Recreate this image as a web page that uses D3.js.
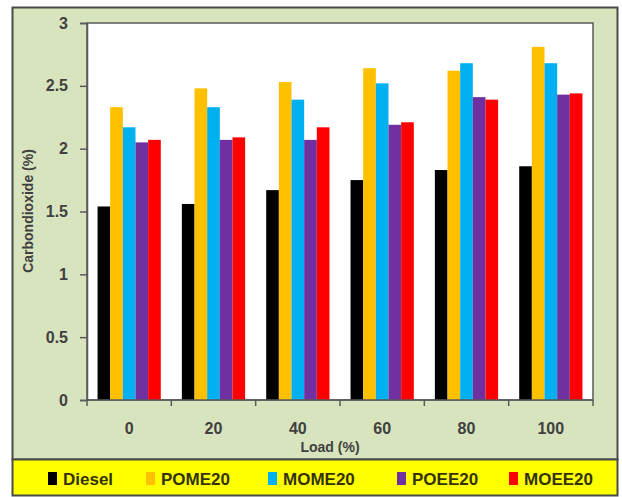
<!DOCTYPE html>
<html>
<head>
<meta charset="utf-8">
<script src="https://cdn.jsdelivr.net/npm/d3@7/dist/d3.min.js"></script>
<style>
  html, body { margin: 0; padding: 0; background: #fff; }
  svg { display: block; font-family: "Liberation Sans", Arial, sans-serif; }
</style>
</head>
<body>
<svg id="chart" width="622" height="497"></svg>
<script>
// Engine load categories (%)
const loads = ["0", "20", "40", "60", "80", "100"];
// Fuel blends
const fuels = ["Diesel", "POME20", "MOME20", "POEE20", "MOEE20"];
const fuelColors = ["#000000", "#FFC000", "#00B0F0", "#7030A0", "#FF0000"];
// CO2 emissions (%) for each fuel across the loads
const diesel = [1.54, 1.56, 1.67, 1.75, 1.83, 1.86];
const pome20 = [2.33, 2.48, 2.53, 2.64, 2.62, 2.81];
const mome20 = [2.17, 2.33, 2.39, 2.52, 2.68, 2.68];
const poee20 = [2.05, 2.07, 2.07, 2.19, 2.41, 2.43];
const moee20 = [2.07, 2.09, 2.17, 2.21, 2.39, 2.44];
const yTicks = [0, 0.5, 1, 1.5, 2, 2.5, 3];

const seriesValues = [diesel, pome20, mome20, poee20, moee20];

const svg = d3.select("#chart");
const plot = { left: 87, top: 23, right: 593, bottom: 400 };
const axisGrey = "#5A5A5A";
const textGrey = "#404040";

// Outer chart frame
svg.append("rect")
  .attr("x", 12.5).attr("y", 7.5).attr("width", 605).attr("height", 452)
  .attr("fill", "#D7E4BD").attr("stroke", "#4A4A4A").attr("stroke-width", 2);

// Legend strip
svg.append("rect")
  .attr("x", 12.5).attr("y", 459.5).attr("width", 605).attr("height", 36)
  .attr("fill", "#FFFF00").attr("stroke", "#4A4A4A").attr("stroke-width", 2);

// Plot area
svg.append("rect")
  .attr("x", plot.left).attr("y", plot.top)
  .attr("width", plot.right - plot.left).attr("height", plot.bottom - plot.top)
  .attr("fill", "#FFFFFF").attr("stroke", axisGrey).attr("stroke-width", 1.5);

const x0 = d3.scaleBand().domain(loads)
  .range([plot.left, plot.right]).paddingInner(0.25).paddingOuter(0.125);
const x1 = d3.scaleBand().domain(fuels).range([0, x0.bandwidth()]).padding(0);
const y = d3.scaleLinear().domain([0, 3]).range([plot.bottom, plot.top]);
const color = d3.scaleOrdinal().domain(fuels).range(fuelColors);

// Bars
const groups = svg.append("g").selectAll("g")
  .data(loads)
  .join("g")
  .attr("transform", d => `translate(${x0(d)},0)`);

groups.selectAll("rect")
  .data((d, i) => fuels.map((f, j) => ({ fuel: f, value: seriesValues[j][i] })))
  .join("rect")
  .attr("x", d => x1(d.fuel))
  .attr("y", d => y(d.value))
  .attr("width", x1.bandwidth())
  .attr("height", d => y(0) - y(d.value))
  .attr("fill", d => color(d.fuel));

// Y axis
const yAxis = svg.append("g")
  .attr("transform", `translate(${plot.left},0)`)
  .call(d3.axisLeft(y).tickValues(yTicks).tickFormat(d3.format("")).tickSize(7).tickPadding(12));
yAxis.select(".domain").attr("stroke", axisGrey).attr("stroke-width", 1.5);
yAxis.selectAll(".tick line").attr("stroke", axisGrey).attr("stroke-width", 1.5);
yAxis.selectAll(".tick text")
  .attr("fill", textGrey).attr("font-size", 16).attr("font-weight", "bold");

// X axis: tick marks on the category boundaries, labels centred in each band
const boundaries = loads.map(d => x0(d) - x0.step() * x0.paddingInner() / 2)
  .concat([plot.right]);
svg.append("g").selectAll("line")
  .data(boundaries)
  .join("line")
  .attr("x1", d => d).attr("x2", d => d)
  .attr("y1", plot.bottom).attr("y2", plot.bottom + 6)
  .attr("stroke", axisGrey).attr("stroke-width", 1.5);
svg.append("line")
  .attr("x1", plot.left).attr("x2", plot.right)
  .attr("y1", plot.bottom).attr("y2", plot.bottom)
  .attr("stroke", axisGrey).attr("stroke-width", 1.5);
svg.append("g").selectAll("text")
  .data(loads)
  .join("text")
  .attr("x", d => x0(d) + x0.bandwidth() / 2)
  .attr("y", 434)
  .attr("text-anchor", "middle")
  .attr("fill", textGrey).attr("font-size", 16).attr("font-weight", "bold")
  .text(d => d);

// Axis titles
svg.append("text")
  .attr("x", 330).attr("y", 452)
  .attr("text-anchor", "middle")
  .attr("fill", textGrey).attr("font-size", 14).attr("font-weight", "bold")
  .text("Load (%)");
svg.append("text")
  .attr("transform", "translate(33,211) rotate(-90)")
  .attr("text-anchor", "middle")
  .attr("fill", textGrey).attr("font-size", 14).attr("font-weight", "bold")
  .text("Carbondioxide (%)");

// Legend entries
const legendX = [48, 146, 268, 397, 509];
const legend = svg.append("g").selectAll("g")
  .data(fuels)
  .join("g")
  .attr("transform", (d, i) => `translate(${legendX[i]},0)`);
legend.append("rect")
  .attr("x", 0).attr("y", 472).attr("width", 9).attr("height", 13)
  .attr("fill", d => color(d));
legend.append("text")
  .attr("x", 15).attr("y", 485)
  .attr("fill", "#333300").attr("font-size", 17).attr("font-weight", "bold")
  .text(d => d);
</script>
</body>
</html>
